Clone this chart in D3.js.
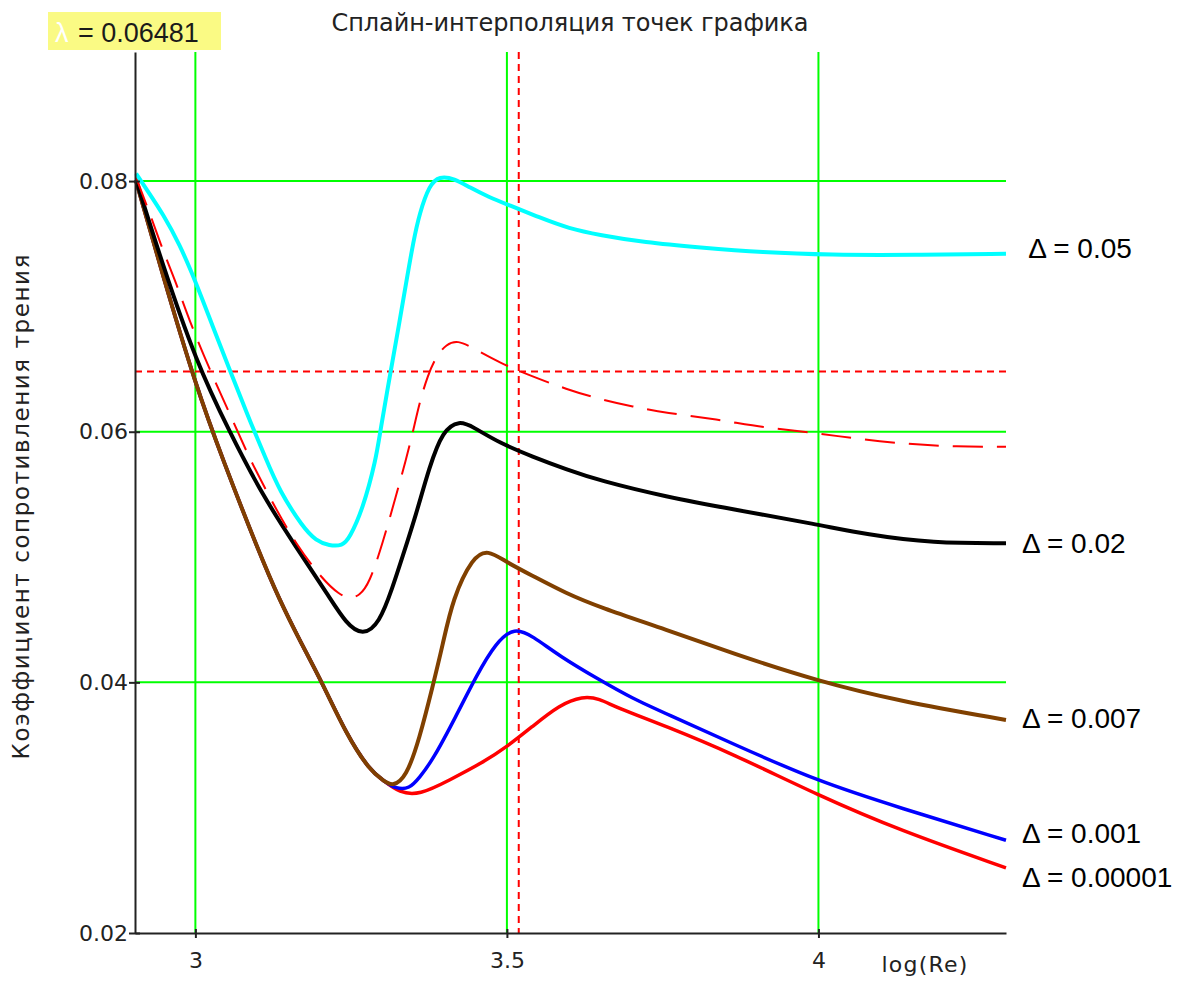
<!DOCTYPE html>
<html>
<head>
<meta charset="utf-8">
<script src="https://cdn.jsdelivr.net/npm/d3@7"></script>
<style>
body { margin: 0; background: #fff; }
</style>
</head>
<body>
<div id="chart"></div>
<script>
// log(Re) from Re = 800 to Re = 20000, friction factor on y
const xDomain = [Math.log10(800), Math.log10(20000)];
const yDomain = [0.02, 0.0903];
const xTicks = [3, 3.5, 4];
const yTicks = [0.02, 0.04, 0.06, 0.08];
const gridX = [3, 3.5, 4];
const gridY = [0.04, 0.06, 0.08];
const lambda = 0.06481;
const logReMark = 3.519;

// common laminar descent of the three smoothest pipes
const descent = [
	[2.9048, 0.0800], [2.9475, 0.0725], [3.0011, 0.0636], [3.0438, 0.0578],
	[3.1027, 0.0503], [3.1348, 0.0466], [3.1669, 0.0434], [3.2043, 0.0399],
	[3.2419, 0.0359], [3.2793, 0.0330], [3.3034, 0.0321]
];

const d005 = [
	[2.9048, 0.0806], [2.9262, 0.0790], [2.9475, 0.0774], [2.9743, 0.0750],
	[3.0011, 0.0719], [3.0278, 0.0684], [3.0546, 0.0650], [3.0814, 0.0616],
	[3.1135, 0.0578], [3.1348, 0.0553], [3.1722, 0.0524], [3.1936, 0.0513],
	[3.2151, 0.0509], [3.2360, 0.0509], [3.2472, 0.0515], [3.2686, 0.0538],
	[3.2900, 0.0578], [3.2965, 0.0600], [3.3141, 0.0650], [3.3263, 0.0684],
	[3.3387, 0.0720], [3.3499, 0.0752], [3.3596, 0.0774], [3.3756, 0.0797],
	[3.3917, 0.0804], [3.4157, 0.0802], [3.4400, 0.0795], [3.4720, 0.0787],
	[3.5024, 0.0781], [3.5520, 0.0771], [3.6000, 0.0762], [3.6485, 0.0757],
	[3.7207, 0.0751], [3.8090, 0.0747], [3.9100, 0.0743], [4.0177, 0.0741],
	[4.1540, 0.0741], [4.3010, 0.0742]
];

// the curve for the current lambda (dashed)
const dLambda = [
	[2.9048, 0.0803], [2.9315, 0.0768], [2.9475, 0.0745], [2.9690, 0.0719],
	[2.9900, 0.0689], [3.0225, 0.0650], [3.0546, 0.0615], [3.0814, 0.0585],
	[3.0930, 0.0573], [3.1241, 0.0543], [3.1616, 0.0510], [3.2043, 0.0482],
	[3.2311, 0.0470], [3.2472, 0.0467], [3.2632, 0.0469], [3.2793, 0.0479],
	[3.3006, 0.0511], [3.3221, 0.0549], [3.3382, 0.0578], [3.3488, 0.0599],
	[3.3596, 0.0623], [3.3729, 0.0645], [3.3863, 0.0660], [3.4030, 0.0670],
	[3.4210, 0.0673], [3.4451, 0.0667], [3.4880, 0.0655], [3.5414, 0.0644],
	[3.5950, 0.0634], [3.6485, 0.0626], [3.7020, 0.0620], [3.7555, 0.0615],
	[3.8358, 0.0610], [3.9160, 0.0603], [3.9963, 0.0599], [4.0658, 0.0594],
	[4.1460, 0.0590], [4.2210, 0.0588], [4.3010, 0.0588]
];

const d002 = [
	[2.9048, 0.0801], [2.9475, 0.0733], [3.0011, 0.0656], [3.0546, 0.0600],
	[3.1080, 0.0549], [3.1616, 0.0508], [3.2151, 0.0468], [3.2418, 0.0447],
	[3.2686, 0.0437], [3.2953, 0.0447], [3.3167, 0.0476], [3.3323, 0.0500],
	[3.3543, 0.0534], [3.3756, 0.0572], [3.3970, 0.0601], [3.4238, 0.0609],
	[3.4451, 0.0604], [3.4880, 0.0591], [3.5414, 0.0580], [3.5950, 0.0570],
	[3.6485, 0.0561], [3.7555, 0.0548], [3.8625, 0.0538], [3.9989, 0.0526],
	[4.0765, 0.0518], [4.1835, 0.0511], [4.3010, 0.0511]
];

const d0007 = descent.concat([
	[3.3167, 0.0317], [3.3382, 0.0324], [3.3596, 0.0355], [3.3810, 0.0397],
	[3.3970, 0.0430], [3.4131, 0.0467], [3.4451, 0.0500], [3.4692, 0.0506],
	[3.4987, 0.0496], [3.5414, 0.0485], [3.5950, 0.0471], [3.6485, 0.0460],
	[3.7555, 0.0442], [3.8625, 0.0423], [3.9989, 0.0401], [4.1300, 0.0385],
	[4.3010, 0.0370]
]);

const d0001 = descent.concat([
	[3.3222, 0.0315], [3.3435, 0.0315], [3.3596, 0.0324], [3.3810, 0.0338],
	[3.4184, 0.0373], [3.4506, 0.0405], [3.4827, 0.0432], [3.5120, 0.0444],
	[3.5414, 0.0437], [3.5843, 0.0421], [3.6485, 0.0402], [3.7020, 0.0387],
	[3.7555, 0.0375], [3.8625, 0.0351], [3.9989, 0.0321], [4.1300, 0.0300],
	[4.3010, 0.0274]
]);

const d000001 = descent.concat([
	[3.3274, 0.0312], [3.3596, 0.0310], [3.4077, 0.0322], [3.4612, 0.0336],
	[3.5013, 0.0349], [3.5414, 0.0365], [3.5843, 0.0382], [3.6217, 0.0389],
	[3.6485, 0.0387], [3.6753, 0.0380], [3.7555, 0.0365], [3.8625, 0.0343],
	[3.9989, 0.0310], [4.1300, 0.0282], [4.3010, 0.0252]
]);

const labelText = [" Δ = 0.05", "Δ = 0.02", "Δ = 0.007", "Δ = 0.001", "Δ = 0.00001"];
const labelY = [0.0747, 0.0511, 0.0372, 0.0280, 0.0245];

// drawing order: bottom first
const series = [
	{ pts: d000001, color: "#ff0000", width: 3.5 },
	{ pts: d0001, color: "#0000ff", width: 3.5 },
	{ pts: d0007, color: "#804000", width: 4 },
	{ pts: d002, color: "#000000", width: 4 },
	{ pts: dLambda, color: "#ff0000", width: 2, dash: "30,14" },
	{ pts: d005, color: "#00ffff", width: 4 }
];

const margin = { top: 52, right: 182, bottom: 48, left: 135 },
	width = 1188 - margin.left - margin.right,
	height = 981 - margin.top - margin.bottom;

const svg = d3.select("#chart")
	.append("svg")
	.attr("width", 1188)
	.attr("height", 981)
	.style("background", "#fff");

const g = svg.append("g")
	.attr("transform", `translate(${margin.left},${margin.top})`);

const x = d3.scaleLinear().domain(xDomain).range([0, width]);
const y = d3.scaleLinear().domain(yDomain).range([height, 0]);

// green grid
g.append("g").selectAll("line")
	.data(gridX)
	.join("line")
	.attr("x1", d => x(d)).attr("x2", d => x(d))
	.attr("y1", 0).attr("y2", height)
	.attr("stroke", "#00ff00")
	.attr("stroke-width", 2);

g.append("g").selectAll("line")
	.data(gridY)
	.join("line")
	.attr("x1", 0).attr("x2", width)
	.attr("y1", d => y(d)).attr("y2", d => y(d))
	.attr("stroke", "#00ff00")
	.attr("stroke-width", 2);

// lambda markers
g.append("line")
	.attr("x1", 0).attr("x2", width)
	.attr("y1", y(lambda)).attr("y2", y(lambda))
	.attr("stroke", "#ff0000")
	.attr("stroke-width", 2)
	.attr("stroke-dasharray", "7,5");

g.append("line")
	.attr("x1", x(logReMark)).attr("x2", x(logReMark))
	.attr("y1", 0).attr("y2", height)
	.attr("stroke", "#ff0000")
	.attr("stroke-width", 2)
	.attr("stroke-dasharray", "7,5");

// curves, smoothed like the spline in the original
const line = d3.line()
	.x(d => x(d[0]))
	.y(d => y(d[1]))
	.curve(d3.curveBasis);

g.append("g").selectAll("path")
	.data(series)
	.join("path")
	.attr("d", d => line(d.pts))
	.attr("fill", "none")
	.attr("stroke", d => d.color)
	.attr("stroke-width", d => d.width)
	.attr("stroke-linejoin", "round")
	.attr("stroke-dasharray", d => d.dash || null);

// axes
const yAxis = g.append("g")
	.call(d3.axisLeft(y).tickValues(yTicks).tickFormat(d3.format(".2f")).tickSize(6).tickSizeOuter(0).tickPadding(1));
yAxis.selectAll(".tick line").attr("x1", 5);

const xAxis = g.append("g")
	.attr("transform", `translate(0,${height})`)
	.call(d3.axisBottom(x).tickValues(xTicks).tickFormat(d3.format("")).tickSize(5).tickSizeOuter(0).tickPadding(14));
xAxis.selectAll(".tick line").attr("y1", -4);

[yAxis, xAxis].forEach(a => {
	a.select(".domain").attr("stroke", "#222").attr("stroke-width", 2);
	a.selectAll(".tick line").attr("stroke", "#222").attr("stroke-width", 2);
	a.selectAll("text")
		.attr("font-family", "DejaVu Sans, sans-serif")
		.attr("font-size", 22)
		.attr("fill", "#222");
});

g.append("text")
	.attr("x", x(4) + 63)
	.attr("y", height + 39)
	.attr("font-family", "DejaVu Sans, sans-serif")
	.attr("font-size", 22)
	.attr("fill", "#222")
	.attr("textLength", 86)
	.text("log(Re)");

// y axis title
svg.append("text")
	.attr("transform", "translate(29,507) rotate(-90)")
	.attr("text-anchor", "middle")
	.attr("font-family", "DejaVu Sans, sans-serif")
	.attr("font-size", 23)
	.attr("fill", "#222")
	.attr("textLength", 505)
	.text("Коэффициент сопротивления трения");

// chart title
svg.append("text")
	.attr("x", 570)
	.attr("y", 31)
	.attr("text-anchor", "middle")
	.attr("font-family", "DejaVu Sans, sans-serif")
	.attr("font-size", 24)
	.attr("fill", "#222")
	.attr("textLength", 477)
	.text("Сплайн-интерполяция точек графика");

// lambda readout
svg.append("rect")
	.attr("x", 48).attr("y", 12)
	.attr("width", 173).attr("height", 38)
	.attr("fill", "#fafa84");

const lam = svg.append("text")
	.attr("x", 55)
	.attr("y", 42)
	.attr("font-family", "Liberation Sans, Arial, sans-serif")
	.attr("font-size", 27);
lam.append("tspan").attr("fill", "#ffffff").text("λ");
lam.append("tspan").attr("x", 78).attr("fill", "#1a1a1a").text("= " + lambda);

// curve labels
g.append("g").selectAll("text")
	.data(labelText)
	.join("text")
	.attr("x", width + 16)
	.attr("y", (d, i) => y(labelY[i]))
	.attr("dy", "0.36em")
	.attr("font-family", "Liberation Sans, Arial, sans-serif")
	.attr("font-size", 28)
	.attr("fill", "#000")
	.style("white-space", "pre")
	.text(d => d);
</script>
</body>
</html>
